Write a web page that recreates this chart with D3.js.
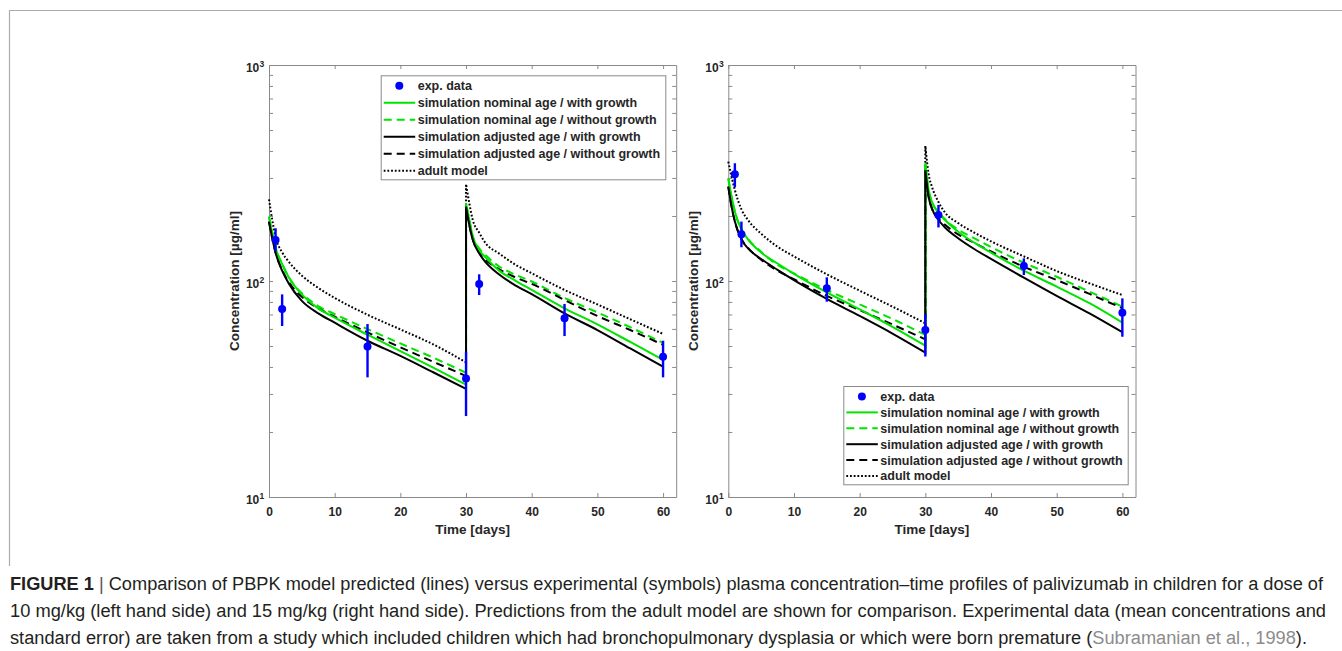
<!DOCTYPE html>
<html lang="en">
<head>
<meta charset="utf-8">
<title>Palivizumab PBPK children</title>
<script src="https://d3js.org/d3.v7.min.js"></script>
<style>
  body { margin: 0; background: #fff; }
  svg { display: block; font-family: "Liberation Sans", Arial, sans-serif; }
</style>
</head>
<body>
<script>
// time grid of the two dosing intervals (dose at day 0 and day 30)
const tDose1 = [0, 0.5, 1, 2, 3, 5, 7.5, 10, 15, 20, 25, 30];
const tDose2 = [30, 30.5, 31, 32, 33, 35, 37.5, 40, 45, 50, 55, 60];

// 10 mg/kg (left) - 12 values for interval 1, then 12 for interval 2
const left_nomGrowth   = [198.6,166.4,142.6,119.9,104.0,86.7,74.7,67.6,56.4,47.4,39.7,33.1,
                          229,191.6,162.2,139.2,128.3,112,100.5,91,74.7,63.0,52.2,43.1];
const left_nomNoGrowth = [198.6,166.4,142.6,120.0,104.5,87.7,76.5,70.3,59.9,51.4,44.2,37.6,
                          229,191.6,162.5,141.6,131.5,117,107,99.5,83.4,71.6,61.1,51.7];
const left_adjGrowth   = [188.3,157.7,135.2,111.6,97.5,80.9,70.8,64.1,52.9,45.0,37.8,31.7,
                          220.8,181.6,155.9,134.3,122.0,107.5,95.5,87,70.8,59.3,48.7,40.1];
const left_adjNoGrowth = [188.3,157.7,135.5,112.5,99.0,84.5,74.7,68.4,57.8,49.3,42.3,36.3,
                          220.8,182,157,135.3,125.1,113.5,104,97,81.7,68.9,59.3,50.6];
const left_adult       = [238.8,191.6,160.2,135.7,123.0,105.9,92.9,83.5,69.8,59.7,50.9,42.0,
                          281,229,193,167.5,149.4,134.3,119.1,108.6,90.9,77.9,66.5,56.9];

// 15 mg/kg (right)
const right_nomGrowth   = [298.5,245.5,209.4,173.4,155.9,135.5,120.5,108,88.6,73.9,61.4,50.2,
                           351,263.6,232.9,207,191.6,169,150,135.2,111.6,94.2,78.9,64.2];
const right_nomNoGrowth = [298.5,245.5,209.4,173.6,156.5,136.5,118.6,108.4,90.9,77.9,66.7,56.3,
                           351,263.6,233,208,193,173,157.5,143.5,121.5,104.6,89.3,76.1];
const right_adjGrowth   = [273.5,221,188.4,155.9,141.6,126.5,112.6,100.9,82.6,68.9,57.1,46.6,
                           326,245.5,216.8,191.6,177.0,157.8,140.3,126.5,103.6,85.3,70.8,57.9];
const right_adjNoGrowth = [273.5,221,188.4,156.5,142.5,125.5,111.6,101.9,85.3,73.4,62.9,53.7,
                           326,245.5,217,194.4,182,164.4,150,137,116.4,101.1,87.1,74.8];
const right_adult       = [357,304,263.7,214.6,191.6,165.6,144.1,130.0,107.4,90.2,76.1,63.7,
                           422,312.6,273.5,232.3,207.5,185.4,167.2,152.6,130.0,111.2,97.5,86.1];

// experimental data (mean and standard error band)
const expTimes  = [1, 2, 15, 30, 32, 45, 60];
const left_expMean  = [154.8, 74.2, 49.7, 35.4, 96.8, 67.2, 44.6];
const left_expHigh  = [175.4, 86.7, 63.2, 47.1, 107.4, 78.3, 52.9];
const left_expLow   = [136.8, 61.9, 35.8, 23.7, 86.1, 55.6, 35.8];
const right_expMean = [311.7, 164.4, 92.5, 59.3, 202.3, 117.3, 71.3];
const right_expHigh = [350.9, 188.4, 104.0, 70.3, 225, 127.3, 83.1];
const right_expLow  = [271.6, 143.3, 80.2, 44.7, 177, 106.6, 55.2];

const xTicks = [0, 10, 20, 30, 40, 50, 60];
const yMajor = [10, 100, 1000];
const yExp = ["1", "2", "3"];
const legendLabels = ["exp. data",
  "simulation nominal age / with growth",
  "simulation nominal age / without growth",
  "simulation adjusted age / with growth",
  "simulation adjusted age / without growth",
  "adult model"];

const green = "#00e400";
const axisCol = "#8a8a8a";
const textCol = "#262626";

// line styles in legend order (index 1..5)
const styles = [
  null,
  {color: green, dash: null},
  {color: green, dash: "8,5"},
  {color: "#000", dash: null},
  {color: "#000", dash: "8,5"},
  {color: "#000", dash: "1.8,1.9"}
];

const panels = [
  {x0: 269, series: [left_nomGrowth, left_nomNoGrowth, left_adjGrowth, left_adjNoGrowth, left_adult],
   mean: left_expMean, hi: left_expHigh, lo: left_expLow,
   legend: {x: 380.7, y: 75.3, w: 284.6, h: 104, row: 17}},
  {x0: 728.3, series: [right_nomGrowth, right_nomNoGrowth, right_adjGrowth, right_adjNoGrowth, right_adult],
   mean: right_expMean, hi: right_expHigh, lo: right_expLow,
   legend: {x: 843.3, y: 386, w: 284.4, h: 98.3, row: 15.9}}
];

const svg = d3.select("body").append("svg")
  .attr("width", 1342).attr("height", 651);

// outer figure frame
svg.append("path")
  .attr("d", "M9.5,566V10.5H1342")
  .attr("fill", "none").attr("stroke", "#ababab").attr("stroke-width", 1.2);

const yTop = 65, yBot = 497, plotW = 407.2;
const yMinor = [];
[10, 100].forEach(d => { for (let k = 2; k <= 9; k++) yMinor.push(d * k); });

panels.forEach(p => {
  const x = d3.scaleLinear().domain([0, 62]).range([p.x0, p.x0 + plotW]);
  const y = d3.scaleLog().domain([10, 1000]).range([yBot, yTop]);
  const g = svg.append("g");

  // axes (ticks point inward, box on)
  const styleAxis = sel => {
    sel.select(".domain").attr("stroke", axisCol);
    sel.selectAll(".tick line").attr("stroke", axisCol);
  };
  g.append("g").attr("transform", `translate(0,${yBot})`)
    .call(d3.axisBottom(x).tickValues(xTicks).tickSizeInner(-4).tickSizeOuter(0).tickPadding(10))
    .call(styleAxis)
    .call(a => a.selectAll("text").attr("fill", textCol).attr("font-size", 12)
      .attr("font-weight", "bold").attr("font-family", "Liberation Sans, Arial, sans-serif"));
  g.append("g").attr("transform", `translate(0,${yTop})`)
    .call(d3.axisTop(x).tickValues(xTicks).tickSizeInner(-4).tickSizeOuter(0).tickFormat(""))
    .call(styleAxis);
  const yTicks = yMajor.concat(yMinor);
  g.append("g").attr("transform", `translate(${p.x0},0)`)
    .call(d3.axisLeft(y).tickValues(yTicks).tickSizeInner(-4).tickSizeOuter(0).tickFormat(""))
    .call(styleAxis);
  g.append("g").attr("transform", `translate(${p.x0 + plotW},0)`)
    .call(d3.axisRight(y).tickValues(yTicks).tickSizeInner(-4).tickSizeOuter(0).tickFormat(""))
    .call(styleAxis);

  // y tick labels 10^n
  yMajor.forEach((v, i) => {
    g.append("text").attr("x", p.x0 - 9.7).attr("y", y(v) + 6.6)
      .attr("text-anchor", "end").attr("font-size", 12).attr("font-weight", "bold")
      .attr("fill", textCol).text("10");
    g.append("text").attr("x", p.x0 - 9.4).attr("y", y(v) + 1.5)
      .attr("fill", textCol).attr("font-weight", "bold").attr("font-size", 8.5).text(yExp[i]);
  });

  // axis titles
  g.append("text").attr("x", p.x0 + plotW / 2).attr("y", 534)
    .attr("text-anchor", "middle").attr("font-size", 13.5).attr("font-weight", "bold")
    .attr("fill", textCol).text("Time [days]");
  g.append("text")
    .attr("transform", `translate(${p.x0 - 30},${(yTop + yBot) / 2}) rotate(-90)`)
    .attr("text-anchor", "middle").attr("font-size", 13.5).attr("font-weight", "bold")
    .attr("fill", textCol).text("Concentration [µg/ml]");

  // simulated profiles
  const line = d3.line().x(d => x(d[0])).y(d => y(d[1])).curve(d3.curveMonotoneX);
  const order = [4, 1, 3, 0, 2];
  order.forEach(k => {
    const v = p.series[k];
    const a = line(tDose1.map((t, i) => [t, v[i]]));
    const b = line(tDose2.map((t, i) => [t, v[i + 12]]));
    const st = styles[k + 1];
    g.append("path").attr("d", a + "L" + b.slice(1))
      .attr("fill", "none").attr("stroke", st.color).attr("stroke-width", 2)
      .attr("stroke-dasharray", st.dash);
  });

  // experimental data with error bars
  g.selectAll(".err").data(expTimes).join("line")
    .attr("x1", d => x(d)).attr("x2", d => x(d))
    .attr("y1", (d, i) => y(p.hi[i])).attr("y2", (d, i) => y(p.lo[i]))
    .attr("stroke", "#0000ff").attr("stroke-width", 2.4);
  g.selectAll(".pt").data(expTimes).join("circle")
    .attr("cx", d => x(d)).attr("cy", (d, i) => y(p.mean[i])).attr("r", 4)
    .attr("fill", "#0000ff");

  // legend
  const L = p.legend;
  const lg = g.append("g").attr("transform", `translate(${L.x},${L.y})`);
  lg.append("rect").attr("x", 0.5).attr("y", 0.5).attr("width", L.w).attr("height", L.h)
    .attr("fill", "#fff").attr("stroke", axisCol).attr("stroke-width", 1);
  legendLabels.forEach((lab, i) => {
    const cy = 10.5 + i * L.row;
    if (i === 0) {
      lg.append("circle").attr("cx", 18.6).attr("cy", cy).attr("r", 4).attr("fill", "#0000ff");
    } else {
      lg.append("line").attr("x1", 3).attr("x2", 34.5).attr("y1", cy).attr("y2", cy)
        .attr("stroke", styles[i].color).attr("stroke-width", 2)
        .attr("stroke-dasharray", styles[i].dash);
    }
    lg.append("text").attr("x", 37).attr("y", cy + 4.4)
      .attr("font-size", 12.5).attr("font-weight", "bold").attr("fill", textCol).text(lab);
  });
});

// caption (condensed look: regular sans squeezed to the measured line widths)
const cap = svg.append("g").attr("font-family", "'Liberation Sans', Arial, sans-serif")
  .attr("font-size", 18).attr("fill", "#231f20");
const c1 = cap.append("text").attr("x", 10).attr("y", 590)
  .attr("textLength", 1313).attr("lengthAdjust", "spacingAndGlyphs");
c1.append("tspan").attr("font-weight", "bold").text("FIGURE 1");
c1.append("tspan").attr("fill", "#555").text(" | ");
c1.append("tspan").text("Comparison of PBPK model predicted (lines) versus experimental (symbols) plasma concentration\u2013time profiles of palivizumab in children for a dose of");
cap.append("text").attr("x", 10).attr("y", 617)
  .attr("textLength", 1316).attr("lengthAdjust", "spacingAndGlyphs")
  .text("10 mg/kg (left hand side) and 15 mg/kg (right hand side). Predictions from the adult model are shown for comparison. Experimental data (mean concentrations and");
const c3 = cap.append("text").attr("x", 10).attr("y", 644)
  .attr("textLength", 1297).attr("lengthAdjust", "spacingAndGlyphs");
c3.append("tspan").text("standard error) are taken from a study which included children which had bronchopulmonary dysplasia or which were born premature (");
c3.append("tspan").attr("fill", "#8c8c8c").text("Subramanian et al., 1998");
c3.append("tspan").text(").");
</script>
</body>
</html>
